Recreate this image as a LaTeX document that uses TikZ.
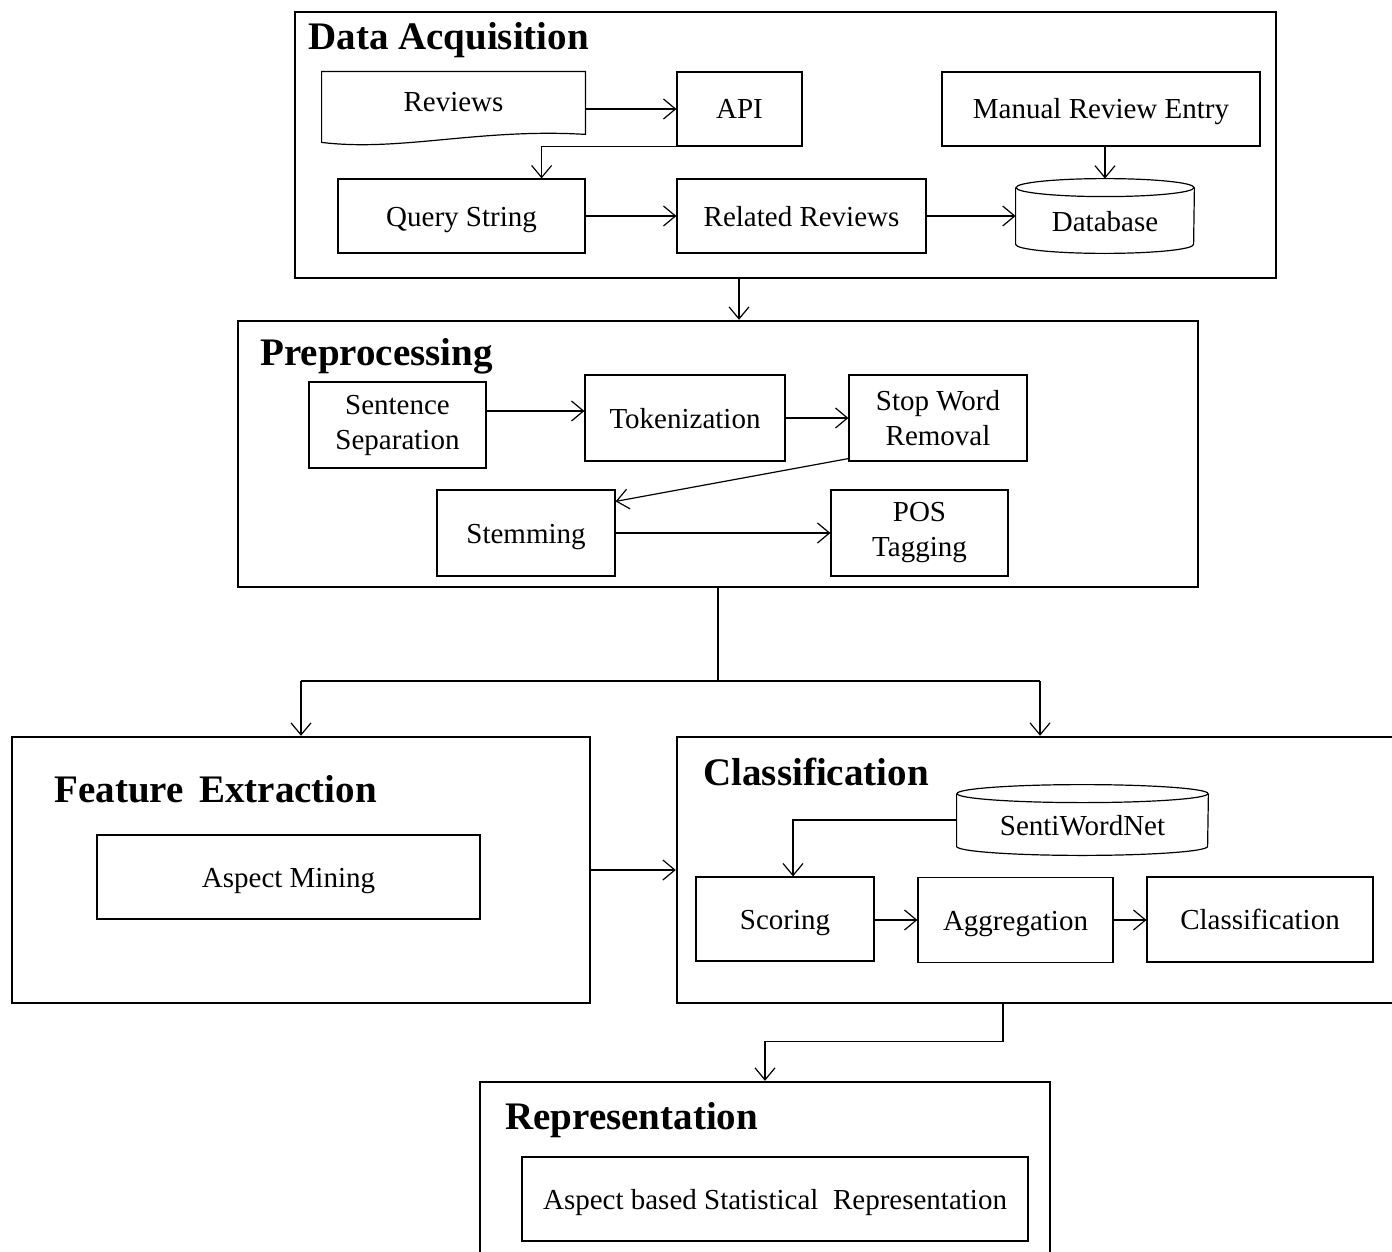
\documentclass[tikz,border=0pt]{standalone}
\usepackage{fontspec}
\setmainfont{Liberation Serif}
\usetikzlibrary{arrows.meta}
\begin{document}
\begin{tikzpicture}[x=0.5pt,y=-0.5pt,
  outer/.style={draw,line width=1.2pt,inner sep=0pt},
  inbox/.style={draw,line width=0.6pt,inner sep=0pt,align=center,font=\fontsize{14.5}{17.5}\selectfont},
  one/.style={text height=13pt,text depth=3pt},
  plain/.style={inner sep=0pt,align=center,font=\fontsize{14.5}{17.5}\selectfont},
  ttl/.style={anchor=base west,inner sep=0pt,font=\fontsize{19.5}{22}\selectfont\bfseries},
  arr/.style={line width=0.6pt,-{Straight Barb[length=6pt,width=10pt,line width=0.6pt]}}]
\useasboundingbox (0,0) rectangle (1392,1252);
% ---------------- Data Acquisition
\node[outer,minimum width=490.5pt,minimum height=133pt] (da) at (785.5,145) {};
\node[ttl] (dat) at (308,50) {Data Acquisition};
\node[plain,minimum width=131.5pt,minimum height=30pt] (rev) at (453.5,102) {Reviews};
\draw[line width=0.6pt] (rev.north west) -- (rev.north east) -- ([yshift=-1pt]rev.south east)
  .. controls (480,128) and (400,152) .. ([yshift=-5pt]rev.south west) -- cycle;
\node[inbox,one,minimum width=62.5pt,minimum height=37pt] (api) at (739.5,109) {API};
\node[inbox,one,minimum width=159pt,minimum height=37pt] (man) at (1101,109) {Manual Review Entry};
\node[inbox,one,minimum width=123.5pt,minimum height=37pt] (qs) at (461.5,216) {Query String};
\node[inbox,one,minimum width=124.5pt,minimum height=37pt] (rr) at (801.5,216) {Related Reviews};
\node[plain,minimum width=89pt,minimum height=37pt,text depth=0pt] (db) at (1105,216) {\raisebox{-5pt}{Database}};
\draw[line width=0.6pt] ([yshift=-4.5pt]db.north west) -- ([yshift=4.5pt]db.south west)
  arc[start angle=180,end angle=360,x radius=44.5pt,y radius=4.5pt] -- ([yshift=-4.5pt]db.north east);
\draw[line width=0.6pt] ([yshift=-4.5pt]db.north) ellipse[x radius=44.5pt,y radius=4.5pt];
\draw[arr] (api.west -| rev.east) -- (api.west);
\draw[arr] (api.south west) -| ([xshift=-22pt]qs.north east);
\draw[arr] (qs) -- (rr);
\draw[arr] (rr) -- (db.west);
\draw[arr] (man.south -| db.north) -- (db.north);
% ---------------- Preprocessing
\node[outer,minimum width=480pt,minimum height=133pt] (pre) at (718,454) {};
\node[ttl] (pret) at (260,365) {Preprocessing};
\node[inbox,minimum width=88.5pt,minimum height=43pt] (sent) at (397.5,425) {\rule{0pt}{2pt}Sentence\\Separation};
\node[inbox,one,minimum width=100pt,minimum height=43pt] (tok) at (685,418) {Tokenization};
\node[inbox,minimum width=89pt,minimum height=43pt] (stop) at (938,418) {\rule{0pt}{2pt}Stop Word\\Removal};
\node[inbox,one,minimum width=89pt,minimum height=43pt] (stem) at (526,533) {Stemming};
\node[inbox,minimum width=88.5pt,minimum height=43pt] (pos) at (919.5,533) {\rule{0pt}{2pt}POS\\Tagging};
\draw[arr] ([yshift=7pt]sent.east) -- ([yshift=7pt]sent.east -| tok.west);
\draw[arr] (tok) -- (stop);
\draw[arr] ([yshift=1.5pt]stop.south west) -- ([yshift=-6pt]stem.north east);
\draw[arr] (stem) -- (pos);
\draw[arr] (da.south -| 739,0) -- (pre.north -| 739,0);
% ---------------- split
\coordinate (split) at (718,681);
\draw[line width=1pt] (pre.south) -- (split);
% ---------------- Feature Extraction
\node[outer,minimum width=289pt,minimum height=133pt] (fe) at (301,870) {};
\node[ttl] (fet) at (54,802) {Feature\hspace{3pt} Extraction};
\node[inbox,one,minimum width=191.5pt,minimum height=42pt] (am) at (288.5,877) {Aspect Mining};
% ---------------- Classification
\node[outer,minimum width=363pt,minimum height=133pt] (cls) at (1040,870) {};
\node[ttl] (clst) at (703,785) {Classification};
\node[plain,minimum width=125.5pt,minimum height=35pt,text depth=0pt] (sw) at (1082.5,820) {\raisebox{-5pt}{SentiWordNet}};
\draw[line width=0.6pt] ([yshift=-4.5pt]sw.north west) -- ([yshift=4.5pt]sw.south west)
  arc[start angle=180,end angle=360,x radius=62.75pt,y radius=4.5pt] -- ([yshift=-4.5pt]sw.north east);
\draw[line width=0.6pt] ([yshift=-4.5pt]sw.north) ellipse[x radius=62.75pt,y radius=4.5pt];
\node[inbox,one,minimum width=89pt,minimum height=42pt] (sc) at (785,919) {Scoring};
\node[inbox,one,minimum width=97.5pt,minimum height=42.5pt] (ag) at (1015.5,920) {Aggregation};
\node[inbox,one,minimum width=113pt,minimum height=42.5pt] (cl) at (1260,919.5) {Classification};
\draw[arr] (sw.west) -| (sc.north -| 793,0);
\draw[arr] (sc.east |- ag.west) -- (ag.west);
\draw[arr] (ag.east) -- (ag.east -| cl.west);
\draw[line width=1pt] (split -| fe.north) -- (split -| cls.north);
\draw[arr] (split -| fe.north) -- (fe.north);
\draw[arr] (split -| cls.north) -- (cls.north);
\draw[arr] (fe.east) -- (cls.west);
% ---------------- Representation
\node[outer,minimum width=285pt,minimum height=94pt] (rep) at (765,1176) {};
\node[ttl] (rept) at (505,1129) {Representation};
\node[inbox,one,minimum width=253pt,minimum height=42pt] (abs) at (775,1199) {Aspect based Statistical\ \ Representation};
\draw[arr] ([xshift=-18.5pt]cls.south) -- ++(0,37) -| (rep.north);
\end{tikzpicture}
\end{document}
